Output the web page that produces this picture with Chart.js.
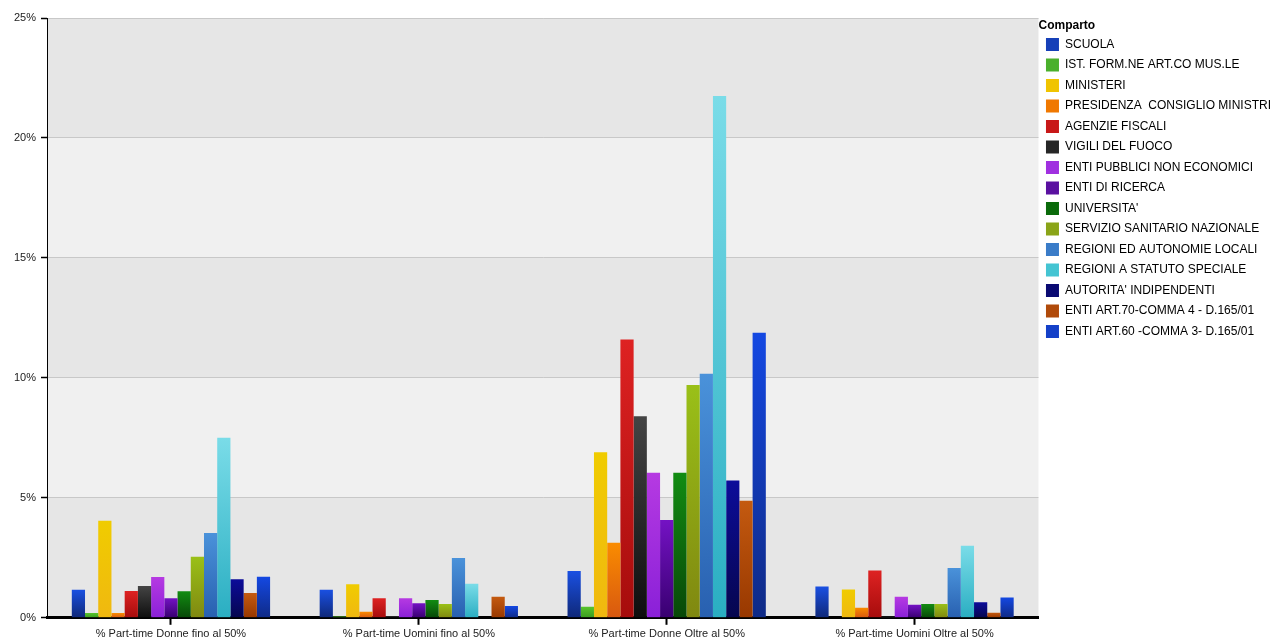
<!DOCTYPE html>
<html><head><meta charset="utf-8">
<script src="https://cdn.jsdelivr.net/npm/chart.js@4"></script>
<style>html,body{margin:0;padding:0;background:#fff;} #wrap{width:1281px;height:644px;position:relative;}</style>
</head><body><div id="wrap"><canvas id="c"></canvas></div>
<script>
const categories = ['% Part-time Donne fino al 50%', '% Part-time Uomini fino al 50%', '% Part-time Donne Oltre al 50%', '% Part-time Uomini Oltre al 50%'];
const comparti = ['SCUOLA', 'IST. FORM.NE ART.CO MUS.LE', 'MINISTERI', 'PRESIDENZA  CONSIGLIO MINISTRI', 'AGENZIE FISCALI', 'VIGILI DEL FUOCO', 'ENTI PUBBLICI NON ECONOMICI', 'ENTI DI RICERCA', "UNIVERSITA'", 'SERVIZIO SANITARIO NAZIONALE', 'REGIONI ED AUTONOMIE LOCALI', 'REGIONI A STATUTO SPECIALE', "AUTORITA' INDIPENDENTI", 'ENTI ART.70-COMMA 4 - D.165/01', 'ENTI ART.60 -COMMA 3- D.165/01'];
const yTicks = [0, 5, 10, 15, 20, 25];

const scuola           = [1.17, 1.17, 1.95, 1.30];
const istFormazione    = [0.20, 0.05, 0.46, 0.00];
const ministeri        = [4.05, 1.40, 6.90, 1.18];
const presidenza       = [0.20, 0.25, 3.13, 0.42];
const agenzieFiscali   = [1.12, 0.82, 11.60, 1.97];
const vigiliFuoco      = [1.33, 0.05, 8.40, 0.04];
const entiPubblici     = [1.70, 0.82, 6.05, 0.88];
const entiRicerca      = [0.82, 0.61, 4.08, 0.54];
const universita       = [1.11, 0.74, 6.05, 0.58];
const sanitario        = [2.54, 0.57, 9.70, 0.58];
const regioniAutonomie = [3.53, 2.49, 10.17, 2.08];
const regioniStatuto   = [7.50, 1.42, 21.75, 3.00];
const autorita         = [1.61, 0.00, 5.72, 0.65];
const entiArt70        = [1.03, 0.88, 4.88, 0.21];
const entiArt60        = [1.71, 0.49, 11.88, 0.85];

const seriesValues = [scuola, istFormazione, ministeri, presidenza, agenzieFiscali, vigiliFuoco, entiPubblici, entiRicerca, universita, sanitario, regioniAutonomie, regioniStatuto, autorita, entiArt70, entiArt60];

// styles: [top, bottom, legend]
const palette = [
  ['#1a50e2', '#0f2878', '#1640b8'],
  ['#58c42c', '#3a9c20', '#4ab02c'],
  ['#f0cc00', '#f0b810', '#f0c400'],
  ['#fa8c00', '#d85810', '#f07800'],
  ['#de2222', '#a60c0c', '#c81818'],
  ['#444444', '#0e0e0e', '#262626'],
  ['#b63ae2', '#8a20d8', '#a030e0'],
  ['#7412c4', '#380070', '#5a10a0'],
  ['#128c12', '#084808', '#0a6a0a'],
  ['#9ac018', '#808810', '#8aa418'],
  ['#4a92da', '#2860b0', '#3a7cc8'],
  ['#7adce8', '#2aaec2', '#44c4d2'],
  ['#0c0c9a', '#06064e', '#0a0a72'],
  ['#c45a10', '#983800', '#b04a0a'],
  ['#1448e2', '#0f2a86', '#1440c8']
];

function barGradient(i) {
  return (ctx) => {
    const chart = ctx.chart;
    const y = chart.scales && chart.scales.y;
    if (!y || ctx.type !== 'data' || ctx.parsed == null) return palette[i][2];
    const top = y.getPixelForValue(ctx.parsed.y);
    const bottom = y.getPixelForValue(0);
    if (!isFinite(top) || !isFinite(bottom) || bottom - top < 1) return palette[i][0];
    const g = chart.ctx.createLinearGradient(0, top, 0, bottom);
    g.addColorStop(0, palette[i][0]);
    g.addColorStop(1, palette[i][1]);
    return g;
  };
}

const bandPlugin = {
  id: 'bands',
  beforeDraw(chart) {
    const {ctx, chartArea: a, scales: {y}} = chart;
    ctx.save();
    for (let i = 0; i < yTicks.length - 1; i++) {
      const y0 = y.getPixelForValue(yTicks[i]);
      const y1 = y.getPixelForValue(yTicks[i + 1]);
      ctx.fillStyle = (i % 2 === 0) ? '#e6e6e6' : '#f0f0f0';
      ctx.fillRect(a.left, y1, a.right - a.left, y0 - y1);
    }
    ctx.restore();
  }
};

const FONT = "'Liberation Sans', Arial, sans-serif";

new Chart(document.getElementById('c'), {
  type: 'bar',
  data: {
    labels: categories,
    datasets: comparti.map((name, i) => ({
      label: name,
      data: seriesValues[i],
      backgroundColor: barGradient(i),
      borderWidth: 0,
      barPercentage: 1.0,
      categoryPercentage: 0.8
    }))
  },
  options: {
    responsive: true,
    maintainAspectRatio: false,
    animation: false,
    layout: {padding: {top: 18, left: 9, right: 0, bottom: 0}},
    plugins: {
      tooltip: {enabled: false},
      legend: {
        position: 'right',
        align: 'start',
        maxWidth: 251,
        title: {display: true, text: 'Comparto', position: 'start', color: '#000', font: {family: FONT, size: 12, weight: 'bold'}, padding: {top: 2, bottom: -4}},
        labels: {
          boxWidth: 13, boxHeight: 13, padding: 7.5, color: '#000',
          font: {family: FONT, size: 12},
          generateLabels(chart) {
            const items = Chart.defaults.plugins.legend.labels.generateLabels(chart);
            items.forEach((it, i) => { it.fillStyle = palette[i][2]; it.strokeStyle = palette[i][2]; it.lineWidth = 0; });
            return items;
          }
        }
      }
    },
    scales: {
      x: {
        grid: {display: true, offset: false, drawOnChartArea: false, drawTicks: true, tickLength: 7, tickWidth: 2, tickColor: '#000'},
        border: {display: true, color: '#000', width: 3},
        ticks: {color: '#222', padding: 3, font: {family: FONT, size: 11}, maxRotation: 0, autoSkip: false}
      },
      y: {
        min: 0, max: 25,
        afterBuildTicks(scale) { scale.ticks = yTicks.map(v => ({value: v})); },
        grid: {color: '#c8c8c8', lineWidth: 1, drawTicks: true, tickLength: 6, tickColor: '#000', tickWidth: 1.5},
        border: {display: true, color: '#000', width: 1},
        ticks: {color: '#222', padding: 5, font: {family: FONT, size: 11}, callback: v => v + '%'}
      }
    }
  },
  plugins: [bandPlugin]
});
</script>
</body></html>
